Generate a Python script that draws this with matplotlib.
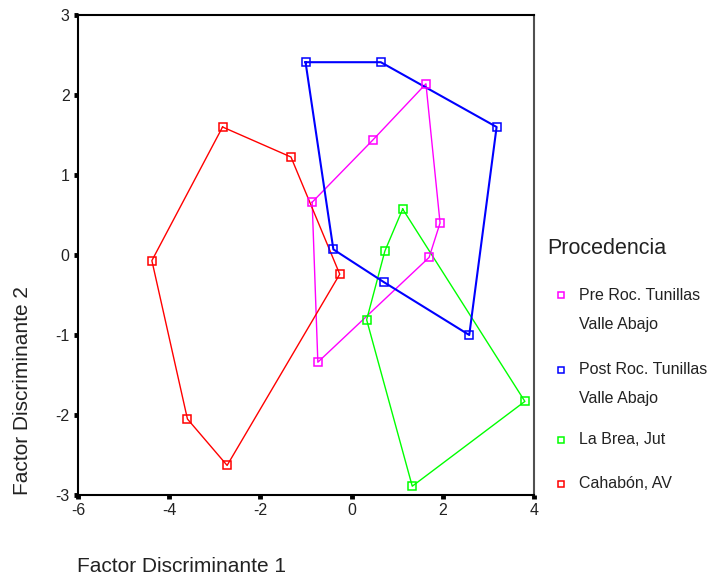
import matplotlib
matplotlib.use("Agg")
import matplotlib.pyplot as plt
from matplotlib.lines import Line2D

plt.rcParams['font.family'] = ['Liberation Sans', 'DejaVu Sans']

# ---- data ----
groups = ["Pre Roc. Tunillas\nValle Abajo", "Post Roc. Tunillas\nValle Abajo",
          "La Brea, Jut", "Cahabón, AV"]
colors = ["#FF00FF", "#0000FF", "#00FF00", "#FF0000"]

pre_x = [-0.865, 0.47, 1.63, 1.94, 1.70, -0.74]
pre_y = [0.66, 1.44, 2.14, 0.40, -0.03, -1.34]

post_x = [-1.01, 0.64, 3.18, 2.58, 0.71, -0.40]
post_y = [2.41, 2.41, 1.60, -1.00, -0.34, 0.07]

brea_x = [1.12, 0.73, 0.33, 1.33, 3.80]
brea_y = [0.575, 0.05, -0.81, -2.89, -1.83]

caha_x = [-2.83, -1.33, -0.26, -2.73, -3.60, -4.38]
caha_y = [1.60, 1.225, -0.24, -2.63, -2.05, -0.07]

xticks = [-6, -4, -2, 0, 2, 4]
yticks = [-3, -2, -1, 0, 1, 2, 3]

TXT = '#222222'

# ---- figure ----
fig = plt.figure(figsize=(7.14, 5.77), dpi=100)
ax = fig.add_axes([78/714, 1-495/577, (534-78)/714, (495-15)/577])

series = [(pre_x, pre_y), (brea_x, brea_y), (caha_x, caha_y), (post_x, post_y)]
cols = [colors[0], colors[2], colors[3], colors[1]]
widths = [1.0, 1.0, 1.0, 1.5]
for (xs, ys), c, lw in zip(series, cols, widths):
    ax.plot(xs + xs[:1], ys + ys[:1], color=c, lw=lw, zorder=2)
    ax.plot(xs, ys, linestyle='none', marker='s', markersize=5.5,
            markerfacecolor='none', markeredgecolor=c, markeredgewidth=1.1, zorder=3)

ax.set_xlim(-6, 4)
ax.set_ylim(-3, 3)
ax.set_xticks(xticks)
ax.set_yticks(yticks)
ax.set_xticklabels([str(t) for t in xticks])
ax.set_yticklabels([str(t) for t in yticks])
ax.tick_params(direction='out', length=3, width=3.5, labelsize=11.5, pad=3,
               color='black', labelcolor=TXT)
for s in ['left', 'bottom', 'top']:
    ax.spines[s].set_linewidth(1.5)
    ax.spines[s].set_color('black')
ax.spines['right'].set_linewidth(1.5)
ax.spines['right'].set_color('#505050')

fig.text(77/714, 1-566/577, "Factor Discriminante 1", fontsize=15,
         ha='left', va='center', color=TXT)
fig.text(23/714, 1-495/577, "Factor Discriminante 2", fontsize=15,
         ha='center', va='bottom', rotation=90, color=TXT)

# ---- legend (manual, SPSS style) ----
fig.text(547/714, 1-249/577, "Procedencia", fontsize=15.5, ha='left', va='center',
         color=TXT)
entry_y = [295, 370, 440, 484]
for lab, c, yy in zip(groups, colors, entry_y):
    fig.add_artist(Line2D([561/714], [1-yy/577], transform=fig.transFigure,
                          linestyle='none', marker='s', markersize=5,
                          markerfacecolor='none', markeredgecolor=c,
                          markeredgewidth=1.1))
    lines = lab.split("\n")
    for i, ln in enumerate(lines):
        fig.text(579/714, 1-(yy + 29*i)/577, ln, fontsize=11.5,
                 ha='left', va='center', color=TXT)

fig.savefig("out.png", dpi=100)
